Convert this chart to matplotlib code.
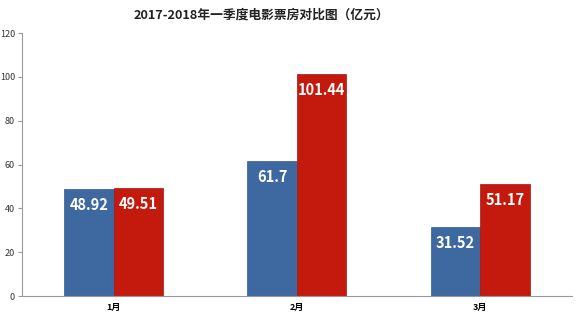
import matplotlib.pyplot as plt
import numpy as np

plt.rcParams['font.family'] = ['Noto Sans CJK SC', 'DejaVu Sans']

# Data
months = ['1月', '2月', '3月']
y2017 = [48.92, 61.7, 31.52]
y2018 = [49.51, 101.44, 51.17]
labels2017 = ['48.92', '61.7', '31.52']
labels2018 = ['49.51', '101.44', '51.17']

c_blue = '#3e68a0'
c_red = '#c41a0e'

fig = plt.figure(figsize=(5.8, 3.15), dpi=100)
ax = fig.add_axes([0.038, 0.06, 0.948, 0.835])

x = np.arange(len(months))
w = 0.27
b1 = ax.bar(x - w / 2, y2017, width=w, color=c_blue, edgecolor='#2f5a8e', linewidth=0.5)
b2 = ax.bar(x + w / 2, y2018, width=w, color=c_red, edgecolor='#a8140a', linewidth=0.5)

for bars, labs in [(b1, labels2017), (b2, labels2018)]:
    for rect, lab in zip(bars, labs):
        ax.text(rect.get_x() + rect.get_width() / 2, rect.get_height() - 7.5, lab,
                ha='center', va='center', color='white', fontsize=10.5, fontweight='bold')

ax.set_xlim(-0.5, 2.5)
ax.set_ylim(0, 120)
ax.set_yticks(range(0, 121, 20))
ax.set_xticks(x)
ax.set_xticklabels(months, fontsize=6.5, fontweight='bold')
ax.tick_params(axis='y', labelsize=6.5, length=3, color='#999999', pad=2, labelcolor='#333333')
ax.tick_params(axis='x', length=0, pad=5)

for s in ['top', 'right']:
    ax.spines[s].set_visible(False)
for s in ['left', 'bottom']:
    ax.spines[s].set_color('#999999')
    ax.spines[s].set_linewidth(0.8)

fig.text(0.451, 0.952, '2017-2018年一季度电影票房对比图（亿元）', ha='center', va='center',
         fontsize=9.2, fontweight='bold', color='#222222')

fig.savefig('out.png', dpi=100)
